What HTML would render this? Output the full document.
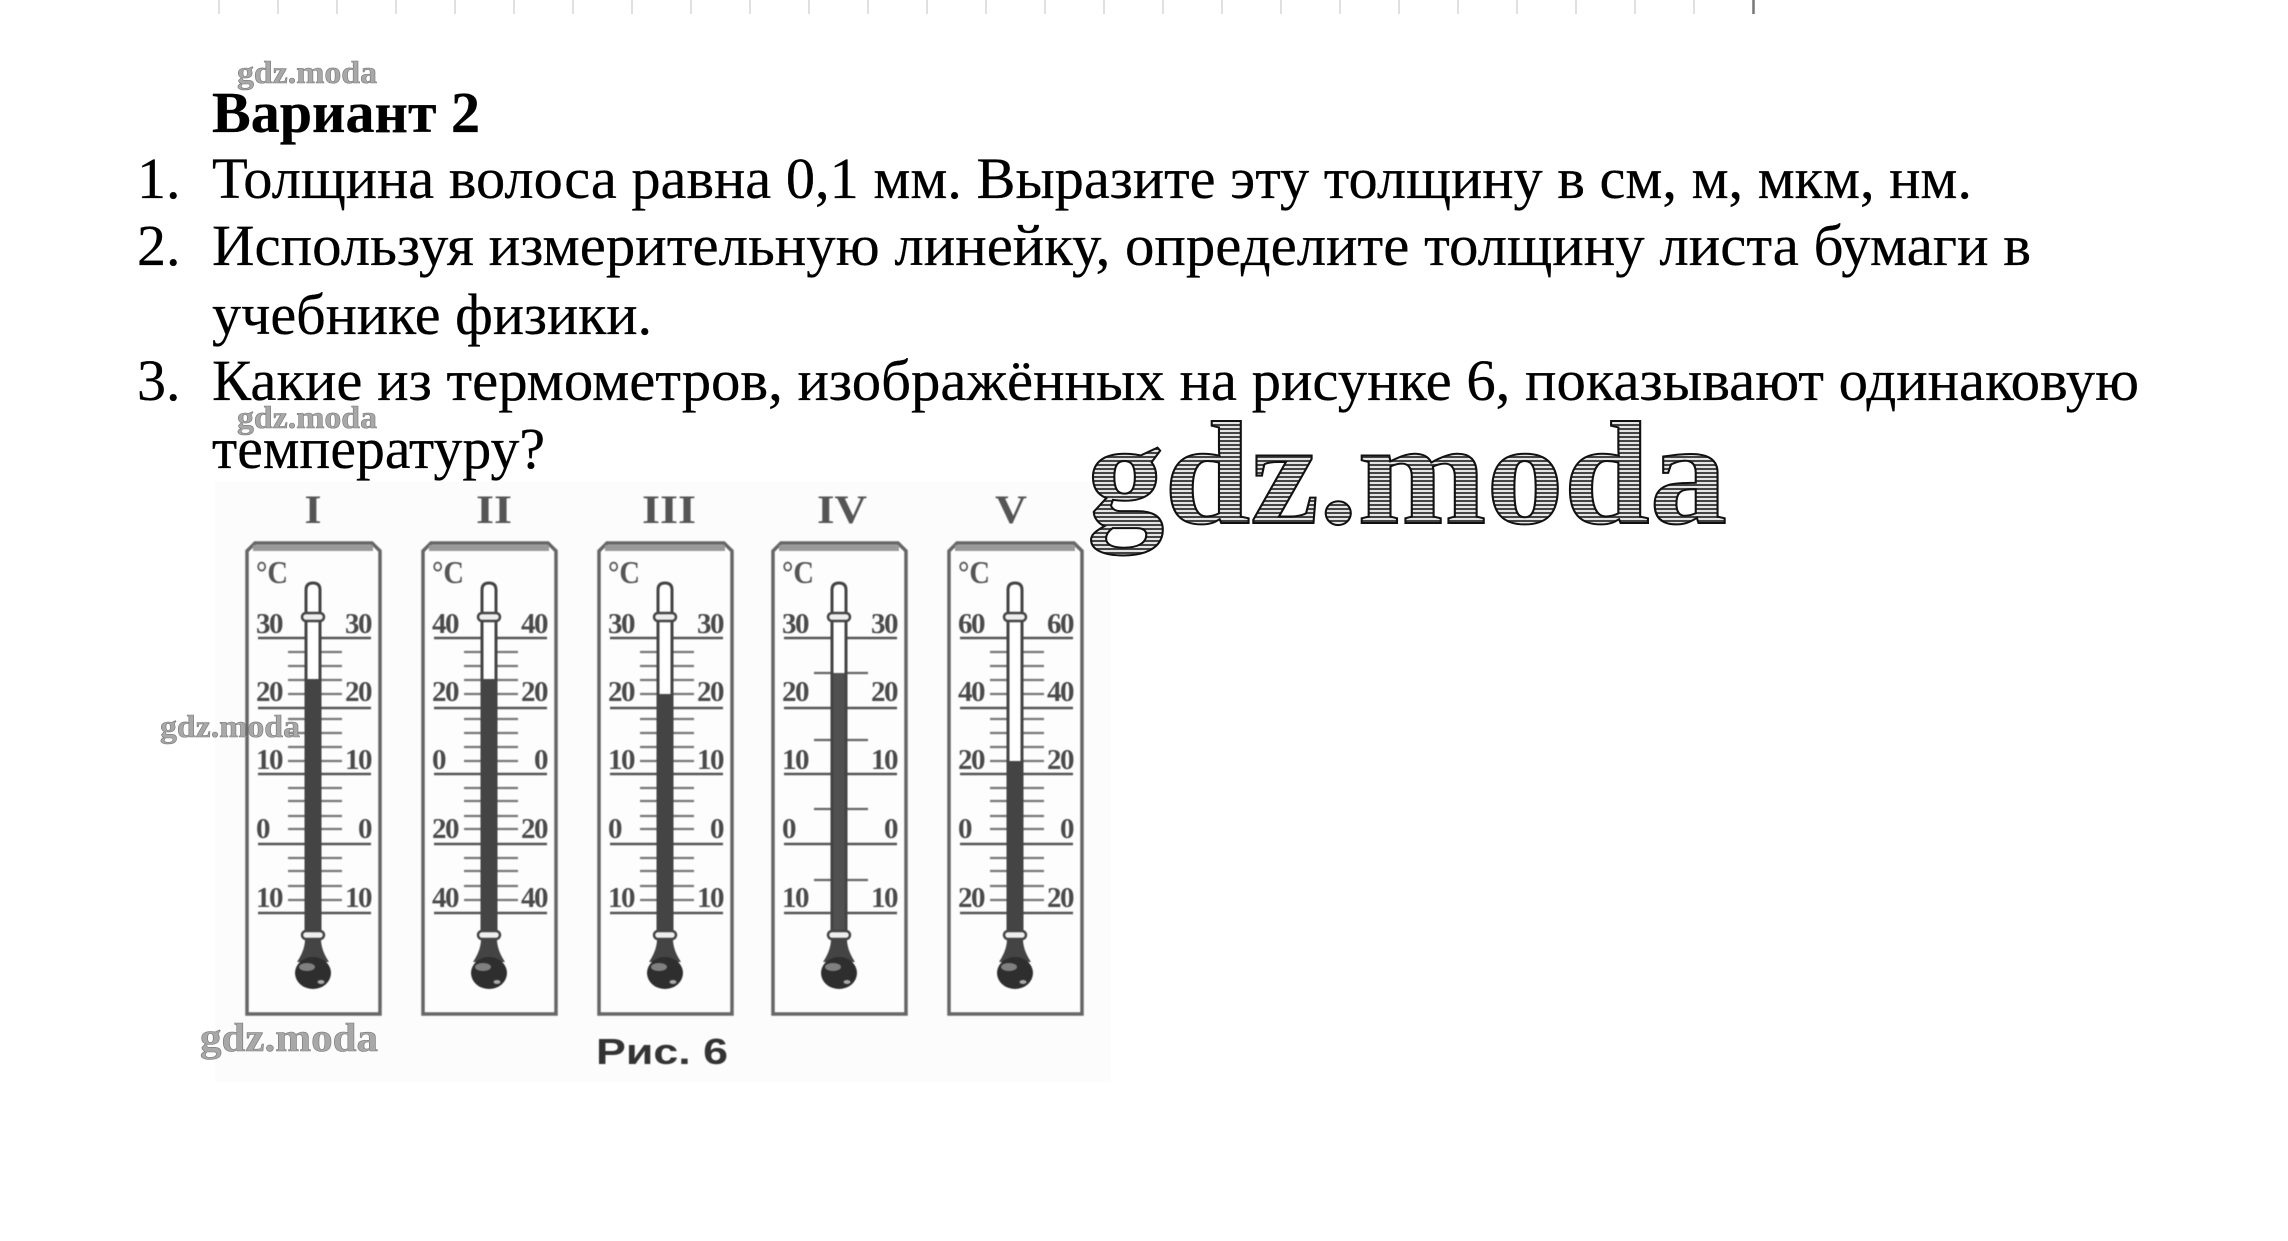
<!DOCTYPE html>
<html lang="ru"><head><meta charset="utf-8"><title>Вариант 2</title>
<style>
html,body{margin:0;padding:0;background:#fff}
svg{display:block}
.t{font:58px "Liberation Serif","Noto Serif CJK SC",serif;fill:#000;stroke:#000;stroke-width:.25}
.n{font:bold 29px "Liberation Serif",serif;fill:#4a4a4a;letter-spacing:-1.5px}
.r{font:bold 40px "Liberation Serif",serif;fill:#555}
.c{font:bold 32px "Liberation Serif",serif;fill:#555}
.w{font:bold 32px "Liberation Serif",serif;fill:#a8a8a8;stroke:#777;stroke-width:.6}
</style></head><body>
<svg xmlns="http://www.w3.org/2000/svg" width="2288" height="1241" viewBox="0 0 2288 1241">
<defs>
<pattern id="st" width="6" height="4" patternUnits="userSpaceOnUse"><rect width="6" height="4" fill="#e4e4e4"/><rect width="6" height="2" fill="#444"/></pattern>
<g id="box">
<path d="M-66 1014V551L-58 543H59L67 551V1014Z" fill="#fdfdfd" stroke="#666" stroke-width="3.5"/>
<rect x="-60" y="545" width="120" height="6" fill="#999"/>
</g>
<g id="maj" stroke="#555" stroke-width="2.5"><path d="M-55 638H58M-55 708H58M-55 774H58M-55 844H58M-55 913H58"/></g>
<g id="min" stroke="#777" stroke-width="2.2"><path d="M-25 652H29M-25 666H29M-25 680H29M-25 694H29M-25 719H29M-25 733H29M-25 747H29M-25 761H29M-25 788H29M-25 801H29M-25 816H29M-25 829H29M-25 858H29M-25 871H29M-25 886H29M-25 900H29"/></g>
<g id="minIV" stroke="#666" stroke-width="2.2"><path d="M-25 673H29M-25 740H29M-25 809H29M-25 880H29"/></g>
<g id="tube">
<path d="M-7 935V590Q-7 583 0 583Q7 583 7 590V935Z" fill="#fff" stroke="#444" stroke-width="3"/>
<rect x="-11" y="613" width="22" height="8" rx="4" fill="#eee" stroke="#444" stroke-width="2.5"/>
<path d="M-8 939Q-8 950 -16 962L16 962Q8 950 8 939Z" fill="#444"/>
<ellipse cx="0" cy="973" rx="18" ry="16" fill="#2e2e2e"/>
<ellipse cx="-6" cy="967" rx="8" ry="4" fill="#808080"/>
<ellipse cx="8" cy="982" rx="3.500" ry="2" fill="#aaa"/>
</g>
<rect id="cb" x="-11" y="931" width="22" height="8" rx="4" fill="#eee" stroke="#444" stroke-width="2.5"/>
</defs>

<path d="M219 0V14M278 0V14M337 0V14M396 0V14M455 0V14M514 0V14M573 0V14M632 0V14M691 0V14M750 0V14M809 0V14M868 0V14M927 0V14M986 0V14M1045 0V14M1104 0V14M1163 0V14M1222 0V14M1281 0V14M1340 0V14M1399 0V14M1458 0V14M1517 0V14M1576 0V14M1635 0V14M1694 0V14" stroke="#d5d5d5" stroke-width="1.5"/>
<path d="M1753.500 0V14" stroke="#777" stroke-width="2.500"/>

<text class="t" x="212" y="132" style="font-weight:bold" textLength="268" lengthAdjust="spacingAndGlyphs">Вариант 2</text>
<text class="t" x="137" y="198">1.</text>
<text class="t" x="212" y="198" textLength="1760" lengthAdjust="spacingAndGlyphs">Толщина волоса равна 0,1 мм. Выразите эту толщину в см, м, мкм, нм.</text>
<text class="t" x="137" y="265">2.</text>
<text class="t" x="212" y="265" textLength="1819" lengthAdjust="spacingAndGlyphs">Используя измерительную линейку, определите толщину листа бумаги в</text>
<text class="t" x="212" y="334" textLength="440" lengthAdjust="spacingAndGlyphs">учебнике физики.</text>
<text class="t" x="137" y="400">3.</text>
<text class="t" x="212" y="400" textLength="1927" lengthAdjust="spacingAndGlyphs">Какие из термометров, изображённых на рисунке 6, показывают одинаковую</text>
<text class="t" x="212" y="468" textLength="333" lengthAdjust="spacingAndGlyphs">температуру?</text>

<rect x="215" y="482" width="896" height="600" fill="#fcfcfc"/>

<g style="filter:blur(.6px)">
<text class="r" x="313" y="523" text-anchor="middle" textLength="17" lengthAdjust="spacingAndGlyphs">I</text>
<text class="r" x="494" y="523" text-anchor="middle" textLength="36" lengthAdjust="spacingAndGlyphs">II</text>
<text class="r" x="669" y="523" text-anchor="middle" textLength="54" lengthAdjust="spacingAndGlyphs">III</text>
<text class="r" x="842" y="523" text-anchor="middle" textLength="50" lengthAdjust="spacingAndGlyphs">IV</text>
<text class="r" x="1011" y="523" text-anchor="middle" textLength="32" lengthAdjust="spacingAndGlyphs">V</text>

<!-- I -->
<g transform="translate(313 0)"><use href="#box"/><use href="#maj"/><use href="#min"/><use href="#tube"/><rect x="-5.500" y="679" width="11" height="256" fill="#444"/><use href="#cb"/>
<text class="c" x="-57" y="583" textLength="32" lengthAdjust="spacingAndGlyphs">°C</text>
<text class="n" x="-57" y="633">30</text><text class="n" x="58" y="633" text-anchor="end">30</text>
<text class="n" x="-57" y="701">20</text><text class="n" x="58" y="701" text-anchor="end">20</text>
<text class="n" x="-57" y="769">10</text><text class="n" x="58" y="769" text-anchor="end">10</text>
<text class="n" x="-57" y="838">0</text><text class="n" x="58" y="838" text-anchor="end">0</text>
<text class="n" x="-57" y="907">10</text><text class="n" x="58" y="907" text-anchor="end">10</text>
</g>
<!-- II -->
<g transform="translate(489 0)"><use href="#box"/><use href="#maj"/><use href="#min"/><use href="#tube"/><rect x="-5.500" y="679" width="11" height="256" fill="#444"/><use href="#cb"/>
<text class="c" x="-57" y="583" textLength="32" lengthAdjust="spacingAndGlyphs">°C</text>
<text class="n" x="-57" y="633">40</text><text class="n" x="58" y="633" text-anchor="end">40</text>
<text class="n" x="-57" y="701">20</text><text class="n" x="58" y="701" text-anchor="end">20</text>
<text class="n" x="-57" y="769">0</text><text class="n" x="58" y="769" text-anchor="end">0</text>
<text class="n" x="-57" y="838">20</text><text class="n" x="58" y="838" text-anchor="end">20</text>
<text class="n" x="-57" y="907">40</text><text class="n" x="58" y="907" text-anchor="end">40</text>
</g>
<!-- III -->
<g transform="translate(665 0)"><use href="#box"/><use href="#maj"/><use href="#min"/><use href="#tube"/><rect x="-5.500" y="694" width="11" height="241" fill="#444"/><use href="#cb"/>
<text class="c" x="-57" y="583" textLength="32" lengthAdjust="spacingAndGlyphs">°C</text>
<text class="n" x="-57" y="633">30</text><text class="n" x="58" y="633" text-anchor="end">30</text>
<text class="n" x="-57" y="701">20</text><text class="n" x="58" y="701" text-anchor="end">20</text>
<text class="n" x="-57" y="769">10</text><text class="n" x="58" y="769" text-anchor="end">10</text>
<text class="n" x="-57" y="838">0</text><text class="n" x="58" y="838" text-anchor="end">0</text>
<text class="n" x="-57" y="907">10</text><text class="n" x="58" y="907" text-anchor="end">10</text>
</g>
<!-- IV -->
<g transform="translate(839 0)"><use href="#box"/><use href="#maj"/><use href="#minIV"/><use href="#tube"/><rect x="-5.500" y="673" width="11" height="262" fill="#505050"/><use href="#cb"/>
<text class="c" x="-57" y="583" textLength="32" lengthAdjust="spacingAndGlyphs">°C</text>
<text class="n" x="-57" y="633">30</text><text class="n" x="58" y="633" text-anchor="end">30</text>
<text class="n" x="-57" y="701">20</text><text class="n" x="58" y="701" text-anchor="end">20</text>
<text class="n" x="-57" y="769">10</text><text class="n" x="58" y="769" text-anchor="end">10</text>
<text class="n" x="-57" y="838">0</text><text class="n" x="58" y="838" text-anchor="end">0</text>
<text class="n" x="-57" y="907">10</text><text class="n" x="58" y="907" text-anchor="end">10</text>
</g>
<!-- V -->
<g transform="translate(1015 0)"><use href="#box"/><use href="#maj"/><use href="#min"/><use href="#tube"/><rect x="-5.500" y="761" width="11" height="174" fill="#444"/><use href="#cb"/>
<text class="c" x="-57" y="583" textLength="32" lengthAdjust="spacingAndGlyphs">°C</text>
<text class="n" x="-57" y="633">60</text><text class="n" x="58" y="633" text-anchor="end">60</text>
<text class="n" x="-57" y="701">40</text><text class="n" x="58" y="701" text-anchor="end">40</text>
<text class="n" x="-57" y="769">20</text><text class="n" x="58" y="769" text-anchor="end">20</text>
<text class="n" x="-57" y="838">0</text><text class="n" x="58" y="838" text-anchor="end">0</text>
<text class="n" x="-57" y="907">20</text><text class="n" x="58" y="907" text-anchor="end">20</text>
</g>
<text x="596" y="1064" style="font:bold 36px 'Liberation Sans',sans-serif;fill:#333" textLength="132" lengthAdjust="spacingAndGlyphs">Рис. 6</text>
</g>

<text class="w" x="237" y="83" textLength="140" lengthAdjust="spacingAndGlyphs">gdz.moda</text>
<text class="w" x="237" y="428" textLength="140" lengthAdjust="spacingAndGlyphs">gdz.moda</text>
<text class="w" x="160" y="737" textLength="140" lengthAdjust="spacingAndGlyphs">gdz.moda</text>
<text class="w" x="200" y="1051" style="font-size:40px" textLength="178" lengthAdjust="spacingAndGlyphs">gdz.moda</text>

<text x="1087" y="523" style="font:bold 147px 'Liberation Serif',serif;fill:url(#st);stroke:#111;stroke-width:2" textLength="640" lengthAdjust="spacingAndGlyphs">gdz.moda</text>
</svg>
</body></html>
